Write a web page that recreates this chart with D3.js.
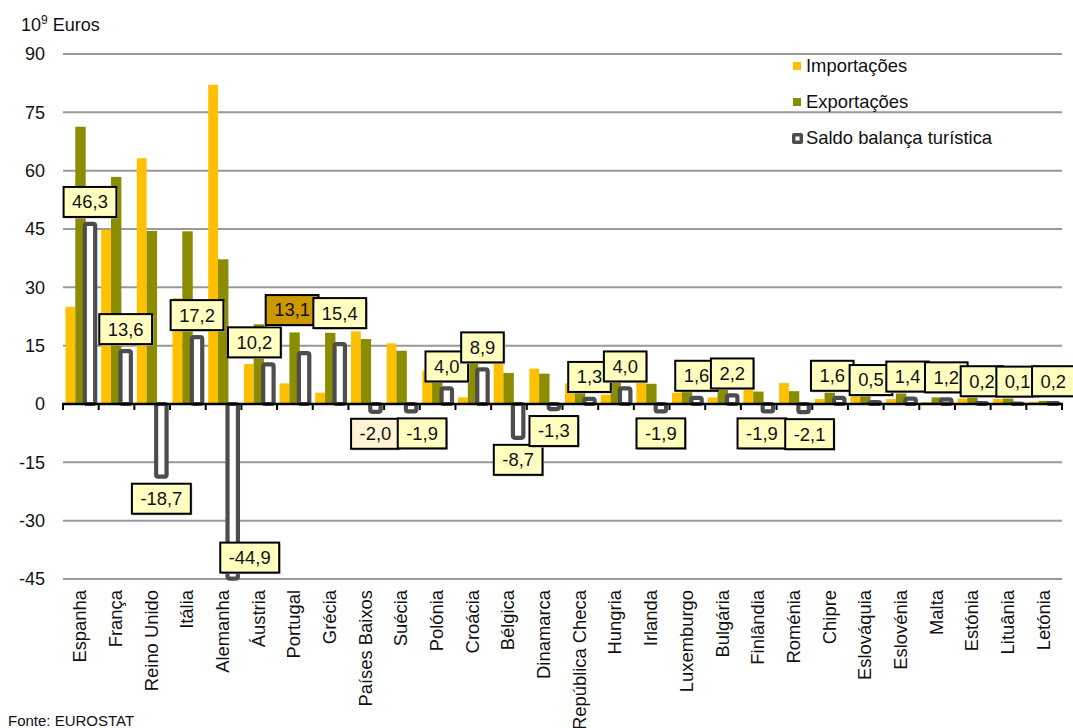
<!DOCTYPE html>
<html>
<head>
<meta charset="utf-8">
<script src="https://cdn.jsdelivr.net/npm/d3@7"></script>
<style>
  body { margin: 0; background: #fff; }
  svg { display: block; font-family: "Liberation Sans", Arial, sans-serif; }
</style>
</head>
<body>
<div id="chart"></div>
<script>
// Balança turística - UE (10^9 euros)
const countries = ['Espanha', 'França', 'Reino Unido', 'Itália', 'Alemanha', 'Áustria', 'Portugal', 'Grécia',
  'Países Baixos', 'Suécia', 'Polónia', 'Croácia', 'Bélgica', 'Dinamarca', 'República Checa', 'Hungria',
  'Irlanda', 'Luxemburgo', 'Bulgária', 'Finlândia', 'Roménia', 'Chipre', 'Eslováquia', 'Eslovénia',
  'Malta', 'Estónia', 'Lituânia', 'Letónia'];

const importacoes = [25.0, 44.8, 63.2, 27.2, 82.1, 10.3, 5.3, 2.9, 18.7, 15.6, 8.6, 1.7, 16.7, 9.1,
  5.3, 2.4, 7.1, 2.9, 1.7, 5.1, 5.4, 1.3, 2.2, 1.3, 0.5, 1.4, 1.3, 0.6];

const exportacoes = [71.3, 58.4, 44.5, 44.4, 37.2, 20.5, 18.4, 18.3, 16.7, 13.7, 12.6, 10.6, 8.0, 7.8,
  6.6, 6.4, 5.2, 4.5, 3.9, 3.2, 3.3, 2.9, 2.7, 2.7, 1.7, 1.6, 1.4, 0.8];

const saldo = [46.3, 13.6, -18.7, 17.2, -44.9, 10.2, 13.1, 15.4, -2.0, -1.9, 4.0, 8.9, -8.7, -1.3,
  1.3, 4.0, -1.9, 1.6, 2.2, -1.9, -2.1, 1.6, 0.5, 1.4, 1.2, 0.2, 0.1, 0.2];

const yTicks = [90, 75, 60, 45, 30, 15, 0, -15, -30, -45];

const seriesNames = ['Importações', 'Exportações', 'Saldo balança turística'];

// label boxes were moved by hand in the original, keep the nudges here (px)
const labelNudge = {
  'Alemanha': [17, -43], 'Áustria': [-14, 0], 'Portugal': [-12, -21], 'Grécia': [0, -9],
  'Suécia': [11, 0], 'Finlândia': [-6, 0], 'Roménia': [6, 0], 'Chipre': [-7, 0],
  'Eslováquia': [-4, 0], 'Eslovénia': [-3, 0]
};
const labelFill = { 'Portugal': '#CC9900', 'Países Baixos': '#FFF4D4' };

// Colours
const cImp = '#FFC000';
const cExp = '#8C8C00';
const cSaldo = '#4D4D4D';

const width = 1073;
const height = 728;
const plotLeft = 63, plotRight = 1062, plotTop = 54, plotBottom = 579;

const svg = d3.select('#chart').append('svg')
  .attr('width', width)
  .attr('height', height);

const x = d3.scaleBand().domain(countries).range([plotLeft, plotRight]).padding(0);
const y = d3.scaleLinear().domain([-45, 90]).range([plotBottom, plotTop]);
const bw = x.bandwidth();

// Grid lines
svg.append('g')
  .selectAll('line')
  .data(yTicks.filter(d => d !== 0))
  .join('line')
  .attr('x1', plotLeft).attr('x2', plotRight)
  .attr('y1', d => y(d)).attr('y2', d => y(d))
  .attr('stroke', '#999').attr('stroke-width', 2);

// Y tick labels
svg.append('g')
  .selectAll('text')
  .data(yTicks)
  .join('text')
  .attr('x', 45)
  .attr('y', d => y(d))
  .attr('dy', '0.35em')
  .attr('text-anchor', 'end')
  .attr('font-size', 18)
  .attr('fill', '#111')
  .text(d => d);

// Unit
const unit = svg.append('text').attr('x', 21).attr('y', 31).attr('font-size', 18).attr('fill', '#111');
unit.append('tspan').text('10');
unit.append('tspan').attr('font-size', 12).attr('dy', -7).text('9');
unit.append('tspan').attr('dy', 7).text(' Euros');

// Bars
const groups = svg.append('g')
  .selectAll('g')
  .data(countries)
  .join('g')
  .attr('transform', d => `translate(${x(d)},0)`);

groups.append('rect')
  .attr('x', 2.5)
  .attr('width', 9.8)
  .attr('y', (d, i) => y(importacoes[i]))
  .attr('height', (d, i) => y(0) - y(importacoes[i]))
  .attr('fill', cImp);

groups.append('rect')
  .attr('x', 12.3)
  .attr('width', 10.4)
  .attr('y', (d, i) => y(exportacoes[i]))
  .attr('height', (d, i) => y(0) - y(exportacoes[i]))
  .attr('fill', cExp);

groups.append('rect')
  .attr('x', 21.8)
  .attr('width', 10.4)
  .attr('y', (d, i) => Math.min(y(saldo[i]), y(0)))
  .attr('height', (d, i) => Math.abs(y(0) - y(saldo[i])))
  .attr('rx', 2)
  .attr('fill', '#fff')
  .attr('stroke', cSaldo)
  .attr('stroke-width', 4.2);

// X axis line + ticks
svg.append('line')
  .attr('x1', plotLeft - 1).attr('x2', plotRight + 1)
  .attr('y1', y(0)).attr('y2', y(0))
  .attr('stroke', '#000').attr('stroke-width', 2.5);

svg.append('g')
  .selectAll('line')
  .data(d3.range(countries.length + 1))
  .join('line')
  .attr('x1', i => plotLeft + i * bw).attr('x2', i => plotLeft + i * bw)
  .attr('y1', y(0)).attr('y2', y(0) + 6)
  .attr('stroke', '#000').attr('stroke-width', 2);

// Category labels
svg.append('g')
  .selectAll('text')
  .data(countries)
  .join('text')
  .attr('transform', d => `translate(${x(d) + bw / 2 - 1},590) rotate(-90)`)
  .attr('dy', '0.35em')
  .attr('text-anchor', 'end')
  .attr('font-size', 18.4)
  .attr('fill', '#111')
  .text(d => d);

// Data labels for saldo
const fmt = v => v.toFixed(1).replace('.', ',');
const labels = svg.append('g')
  .selectAll('g')
  .data(countries)
  .join('g');

labels.each(function (d, i) {
  const g = d3.select(this);
  const t = g.append('text')
    .attr('font-size', 18.4)
    .attr('fill', '#111')
    .attr('text-anchor', 'middle')
    .text(fmt(saldo[i]));
  const tw = t.node().getComputedTextLength();
  const w = tw + 17, h = 30;
  const nudge = labelNudge[d] || [0, 0];
  const cx = x(d) + 27 + nudge[0];
  const ty = (saldo[i] >= 0 ? y(saldo[i]) - 37 : y(saldo[i]) + 7) + nudge[1];
  g.insert('rect', 'text')
    .attr('x', cx - w / 2 + 1.5).attr('y', ty + 1.5)
    .attr('width', w).attr('height', h)
    .attr('fill', '#bbb');
  g.insert('rect', 'text')
    .attr('x', cx - w / 2).attr('y', ty)
    .attr('width', w).attr('height', h)
    .attr('fill', labelFill[d] || '#FFFFC0')
    .attr('stroke', '#000')
    .attr('stroke-width', 2);
  t.attr('x', cx).attr('y', ty + h / 2).attr('dy', '0.35em');
});

// Legend
const legend = svg.append('g').attr('transform', 'translate(793,0)');
const rowsY = [66, 102, 138];
legend.append('rect').attr('x', 0).attr('y', rowsY[0] - 4).attr('width', 8).attr('height', 8).attr('fill', cImp);
legend.append('rect').attr('x', 0).attr('y', rowsY[1] - 4).attr('width', 8).attr('height', 8).attr('fill', cExp);
legend.append('rect').attr('x', -1).attr('y', rowsY[2] - 5).attr('width', 11).attr('height', 11)
  .attr('rx', 2).attr('fill', cSaldo);
legend.append('rect').attr('x', 2.5).attr('y', rowsY[2] - 1.5).attr('width', 4).attr('height', 4).attr('fill', '#fff');
legend.selectAll('text.leg')
  .data(seriesNames)
  .join('text')
  .attr('class', 'leg')
  .attr('x', 13)
  .attr('y', (d, i) => rowsY[i])
  .attr('dy', '0.35em')
  .attr('font-size', 18.4)
  .attr('fill', '#111')
  .text(d => d);

// Source
svg.append('text')
  .attr('x', 8).attr('y', 726)
  .attr('font-size', 15)
  .attr('fill', '#111')
  .text('Fonte: EUROSTAT');
</script>
</body>
</html>
